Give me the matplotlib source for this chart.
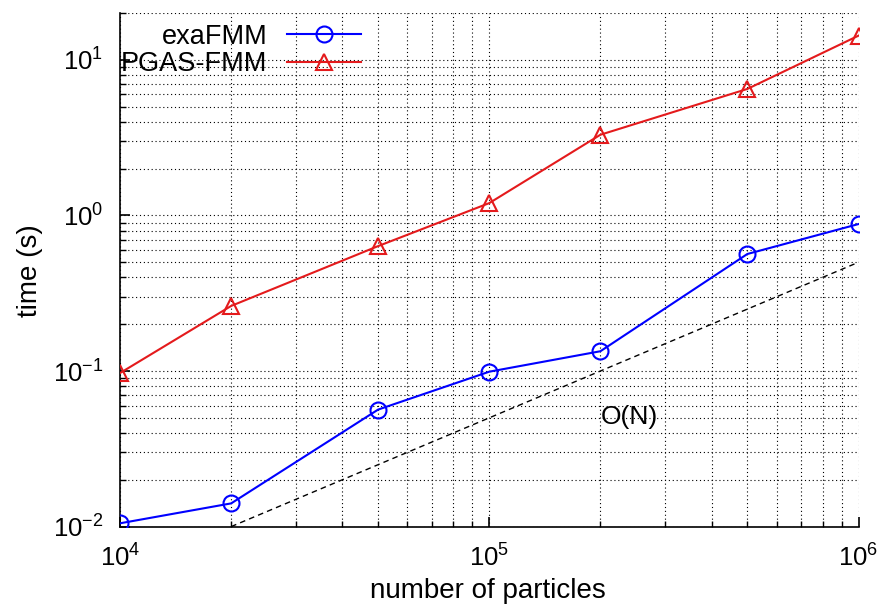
import numpy as np
import matplotlib
matplotlib.use("Agg")
import matplotlib.pyplot as plt
from matplotlib.ticker import LogLocator, NullFormatter

plt.rcParams['font.family'] = ['Liberation Sans', 'DejaVu Sans']
plt.rcParams['mathtext.fontset'] = 'custom'
plt.rcParams['mathtext.rm'] = 'Liberation Sans'
plt.rcParams['mathtext.it'] = 'Liberation Sans'
plt.rcParams['mathtext.default'] = 'regular'

# data
particles = [1e4, 2e4, 5e4, 1e5, 2e5, 5e5, 1e6]
exafmm = [0.0105, 0.0141, 0.0565, 0.099, 0.134, 0.565, 0.88]
pgas = [0.097, 0.262, 0.635, 1.2, 3.3, 6.5, 14.3]
on_x = [2e4, 1e6]
on_y = [0.01, 0.5]

fig = plt.figure(figsize=(8.81, 6.06), dpi=100)
ax = fig.add_axes([120 / 881, 1 - 526.6 / 606, 738.5 / 881, 513.6 / 606])

ax.plot(particles, exafmm, color='#0000ff', lw=1.5, marker='o', ms=11.5,
        mfc='none', mec='#0000ff', mew=1.5, label='exaFMM', zorder=4)
ax.plot(particles, pgas, color='#e41a1c', lw=1.5, marker='^', ms=12,
        mfc='none', mec='#e41a1c', mew=1.5, label='PGAS-FMM', zorder=4)
ax.plot(on_x, on_y, color='black', lw=1.0, ls=(0, (4, 3)), zorder=3)
ax.text(2e5, 0.051, 'O(N)', fontsize=19, ha='left', va='center')

ax.set_xscale('log')
ax.set_yscale('log')
ax.set_xlim(1e4, 1e6)
ax.set_ylim(0.01, 20)

ax.xaxis.set_major_locator(LogLocator(base=10, numticks=10))
ax.yaxis.set_major_locator(LogLocator(base=10, numticks=10))
ax.xaxis.set_minor_locator(LogLocator(base=10, subs=np.arange(2, 10), numticks=20))
ax.yaxis.set_minor_locator(LogLocator(base=10, subs=np.arange(2, 10), numticks=20))
ax.xaxis.set_minor_formatter(NullFormatter())
ax.yaxis.set_minor_formatter(NullFormatter())

ax.grid(True, which='both', color='black', lw=0.8, ls=(0, (1, 2.5)))
ax.set_axisbelow(True)

for s in ['top', 'right']:
    ax.spines[s].set_visible(False)
for s in ['left', 'bottom']:
    ax.spines[s].set_linewidth(1.2)

ax.tick_params(which='both', direction='in', top=False, right=False)
ax.tick_params(which='major', length=7, width=1.2, labelsize=18.5)
ax.tick_params(which='minor', length=4, width=1.0)
ax.tick_params(axis='x', which='major', pad=13)
ax.tick_params(axis='y', which='major', pad=12)

ax.set_xlabel('number of particles', fontsize=20)
ax.set_ylabel('time (s)', fontsize=20)
ax.xaxis.label.set_va('center')
ax.yaxis.label.set_va('center')
ax.xaxis.set_label_coords(0.498, -0.126)
ax.yaxis.set_label_coords(-0.122, 0.498)

ax.legend(loc='upper right', bbox_to_anchor=(361 / 881, 0.961),
          bbox_transform=fig.transFigure, frameon=False, markerfirst=False,
          fontsize=19.5, handlelength=2.75, handletextpad=0.7,
          labelspacing=0.05, borderpad=0, borderaxespad=0)

fig.savefig('out.png', dpi=100)
